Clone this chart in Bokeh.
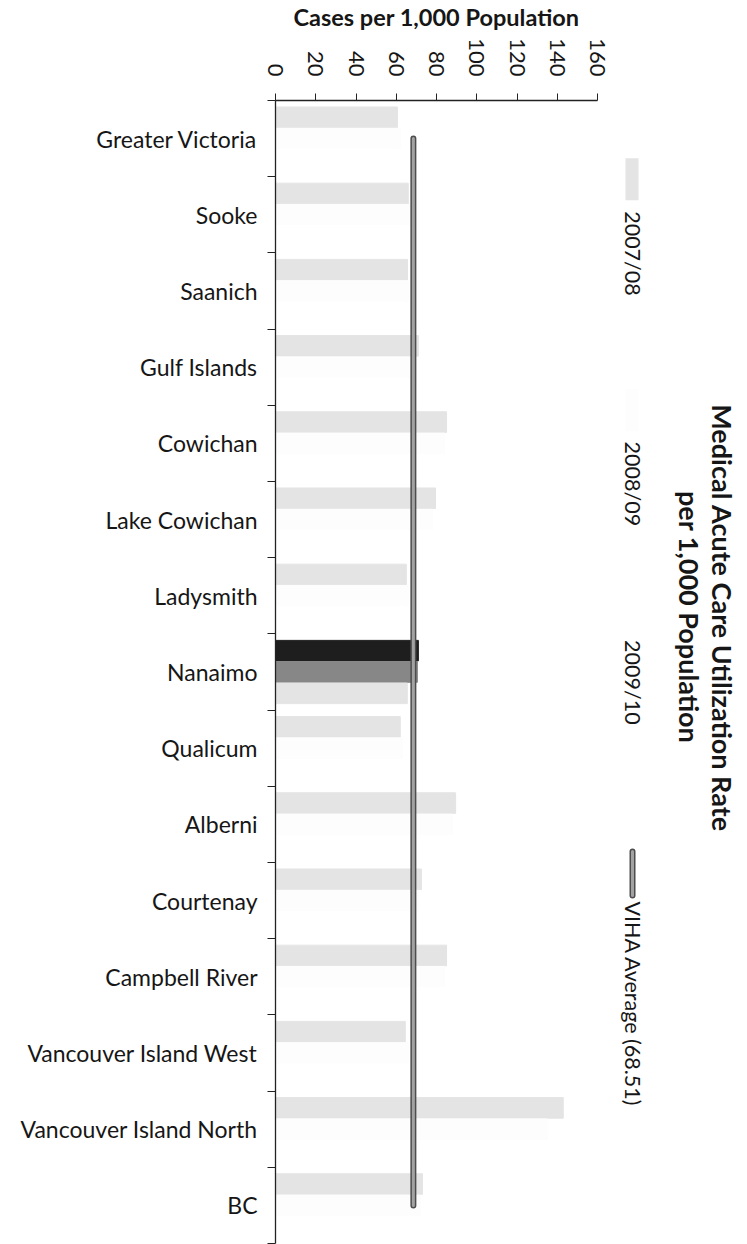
import math
from bokeh.plotting import figure
from bokeh.layouts import row
from bokeh.models import ColumnDataSource, FixedTicker, Range1d
from bokeh.core.properties import value
from bokeh.transform import dodge
from bokeh.embed import file_html
from bokeh.resources import INLINE

# ---------------- data ----------------
categories = ["Greater Victoria", "Sooke", "Saanich", "Gulf Islands", "Cowichan",
              "Lake Cowichan", "Ladysmith", "Nanaimo", "Qualicum", "Alberni",
              "Courtenay", "Campbell River", "Vancouver Island West",
              "Vancouver Island North", "BC"]
series_names = ["2007/08", "2008/09", "2009/10"]
rate_2007_08 = [60.6, 66.0, 65.6, 71.0, 85.0, 79.5, 65.0, 71.0, 62.0, 89.5, 72.5, 85.0, 64.5, 143.0, 73.0]
rate_2008_09 = [62.0, 67.0, 66.0, 70.0, 84.0, 78.0, 66.0, 70.5, 63.0, 88.0, 71.0, 84.0, 66.0, 135.0, 72.0]
rate_2009_10 = [61.0, 65.0, 64.0, 69.0, 83.0, 77.0, 64.0, 65.5, 61.0, 87.0, 70.0, 83.0, 65.0, 138.0, 71.0]
viha_average = 68.51
highlight = "Nanaimo"
x_ticks = [0, 20, 40, 60, 80, 100, 120, 140, 160]
title_lines = ["Medical Acute Care Utilization Rate", "per 1,000 Population"]
x_title = "Cases per 1,000 Population"
avg_label = "VIHA Average (%.2f)" % viha_average

# ---------------- style ----------------
FONT = "Lato"
TXT = "#161616"
LIGHT = "#e4e4e4"
FAINT = "#fdfdfd"
WHITE = "#ffffff"
BLACK = "#1e1e1e"
GRAY = "#878787"
LINE_DARK = "#4d4d4d"
LINE_MID = "#a2a2a2"

n = len(categories)
ys = [n - 0.5 - i for i in range(n)]

col_a = [BLACK if c == highlight else LIGHT for c in categories]
col_b = [GRAY if c == highlight else FAINT for c in categories]
col_c = [LIGHT if c == highlight else WHITE for c in categories]

src = ColumnDataSource(dict(y=ys, a=rate_2007_08, b=rate_2008_09, c=rate_2009_10,
                            ca=col_a, cb=col_b, cc=col_c))

H = 1244
PW = 611
p = figure(width=PW, height=H, x_range=(0, 160), y_range=(0, n),
           x_axis_location="above", output_backend="svg", toolbar_location=None,
           min_border_left=275, min_border_right=PW - 597, min_border_top=97,
           min_border_bottom=1)
p.outline_line_color = None
p.xgrid.grid_line_color = None
p.ygrid.grid_line_color = None

bh = 0.27
p.hbar(y=dodge("y", 0.28, range=p.y_range), left=0, right="a", height=bh, source=src,
       fill_color="ca", line_color="ca")
p.hbar(y=dodge("y", 0.0, range=p.y_range), left=0, right="b", height=bh, source=src,
       fill_color="cb", line_color="cb")
p.hbar(y=dodge("y", -0.28, range=p.y_range), left=0, right="c", height=bh, source=src,
       fill_color="cc", line_color="cc")

avg_x = [viha_average] * n
p.line(x=avg_x, y=ys, line_width=6, line_color=LINE_DARK, line_cap="round")
p.line(x=avg_x, y=ys, line_width=3, line_color=LINE_MID, line_cap="round")

# top axis
xa = p.xaxis[0]
xa.ticker = FixedTicker(ticks=x_ticks)
xa.major_label_orientation = -math.pi / 2
xa.major_label_text_font = FONT
xa.major_label_text_font_size = "22px"
xa.major_label_text_color = TXT
xa.major_tick_out = 7
xa.major_tick_in = 0
xa.minor_tick_out = 0
xa.minor_tick_in = 0
xa.major_label_standoff = 17
xa.axis_line_color = "#222222"
xa.major_tick_line_color = "#222222"
xa.axis_line_width = 1.3
xa.axis_label = x_title
xa.axis_label_text_font = FONT
xa.axis_label_text_font_style = "bold"
xa.axis_label_text_font_size = "23.5px"
xa.axis_label_text_color = TXT
xa.axis_label_standoff = 4

# left axis
ya = p.yaxis[0]
ya.ticker = FixedTicker(ticks=ys, minor_ticks=list(range(n + 1)))
ya.major_label_overrides = {y: c for y, c in zip(ys, categories)}
ya.major_tick_out = 0
ya.major_tick_in = 0
ya.minor_tick_out = 8
ya.minor_tick_in = 0
ya.minor_tick_line_color = "#222222"
ya.axis_line_color = "#222222"
ya.axis_line_width = 1.3
ya.major_label_standoff = 10
ya.major_label_text_font = FONT
ya.major_label_text_font_size = "23px"
ya.major_label_text_color = TXT

# ---------------- right-hand panel: title and legend ----------------
# this panel's frame is aligned with the main frame (page y 97..1243);
# its coordinates are page pixels (x to the right, y downwards)
q = figure(width=747 - PW, height=H, x_range=Range1d(PW, 747), y_range=Range1d(1243, 97),
           output_backend="svg", toolbar_location=None,
           min_border_left=0, min_border_right=0, min_border_top=0, min_border_bottom=0)
q.axis.visible = False
q.grid.grid_line_color = None
q.outline_line_color = None

q.text(x=[722, 689], y=[616, 615], text=title_lines, angle=-math.pi / 2,
       text_align="center", text_baseline="middle", text_font=value(FONT),
       text_font_style="bold", text_font_size="27px", text_color=TXT)

# legend swatches for the three series
sw_top = [155, 386, 586]
sw_fill = [LIGHT, FAINT, WHITE]
q.quad(left=[625] * 3, right=[638] * 3, top=sw_top, bottom=[t + 42 for t in sw_top],
       fill_color=sw_fill, line_color=None)
q.text(x=[632] * 3, y=[208, 439, 638], text=series_names, angle=-math.pi / 2,
       text_align="left", text_baseline="middle", text_font=value(FONT),
       text_font_size="21.5px", text_color=TXT)

# legend entry for the average line
q.line(x=[632, 632], y=[850, 894], line_width=6, line_color=LINE_DARK, line_cap="round")
q.line(x=[632, 632], y=[850, 894], line_width=3, line_color=LINE_MID, line_cap="round")
q.text(x=[632], y=[900], text=[avg_label], angle=-math.pi / 2,
       text_align="left", text_baseline="middle", text_font=value(FONT),
       text_font_size="21.5px", text_color=TXT)

layout = row(p, q, spacing=0)
open("out.html", "w").write(file_html(layout, INLINE))
